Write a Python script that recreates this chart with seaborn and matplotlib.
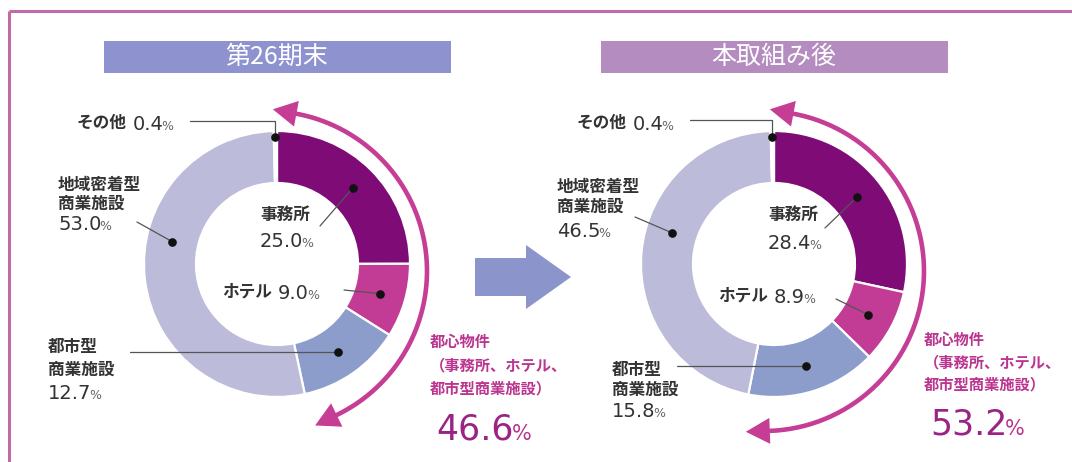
import numpy as np
import matplotlib
matplotlib.use("Agg")
import matplotlib.pyplot as plt
import seaborn as sns
from matplotlib.patches import Rectangle, Polygon, FancyArrow

# ---- data -------------------------------------------------------------
categories = ["事務所", "ホテル", "都市型商業施設", "地域密着型商業施設", "その他"]
share_before = [25.0, 9.0, 12.7, 53.0, 0.4]
share_after = [28.4, 8.9, 15.8, 46.5, 0.4]
urban_before = 46.6
urban_after = 53.2
panel_titles = ["第26期末", "本取組み後"]
label_lines = [["事務所"], ["ホテル"], ["都市型", "商業施設"], ["地域密着型", "商業施設"], ["その他"]]
urban_lines = ["都心物件", "（事務所、ホテル、", "都市型商業施設）"]

# ---- style ------------------------------------------------------------
sns.set_theme(style="white")
JP = ["Noto Sans CJK JP", "DejaVu Sans"]
NUM = "DejaVu Sans"
plt.rcParams["font.family"] = JP

seg_colors = sns.color_palette(["#7e0b76", "#c23b95", "#8d9dcb", "#bcbbd9", "#ffffff"])
TXT = "#333333"
PCT = "#666666"
MAG = "#bb3590"
MAG_NUM = "#9b2384"
ARC = "#c63d95"

W, H = 1072, 462
fig = plt.figure(figsize=(W / 100, H / 100), dpi=100)
ax = fig.add_axes([0, 0, 1, 1])
renderer = fig.canvas.get_renderer()


def Y(y):
    return H - y


def text_w(t):
    return t.get_window_extent(renderer).width


def jp(x, y, s, size=12, color=TXT, weight="bold", **kw):
    return ax.text(x, Y(y), s, ha="left", va="center", fontsize=size,
                   color=color, family=JP, fontweight=weight, **kw)


def value(x, y, v, size=14, pct=9, color=TXT, pct_color=PCT):
    cap = size * 100 / 72 * 0.729
    base = Y(y + cap / 2)
    t = ax.text(x, base, f"{v:.1f}", ha="left", va="baseline", fontsize=size,
                color=color, family=NUM)
    w = text_w(t)
    ax.text(x + w - 2, base, "%", ha="left", va="baseline", fontsize=pct,
            color=pct_color, family=NUM)
    return t


panels = [
    dict(shares=share_before, urban=urban_before, title=panel_titles[0],
         bar="#8e92ce", cx=277, cy=264,
         labels=[
             dict(kind="stack", x=260, ys=[215, 240], lead=(320, 226)),
             dict(kind="inline", x=222, y=292, lead=(344, 290)),
             dict(kind="stack", x=48, ys=[347, 370, 392], lead=(130, None)),
             dict(kind="stack", x=58, ys=[185, 204, 223], lead=(137, 222), angle=282),
             dict(kind="inline", x=77, y=123, lead=(190, 121), elbow=True),
         ],
         urban_x=430, urban_ys=[342, 365, 388], urban_num_y=427),
    dict(shares=share_after, urban=urban_after, title=panel_titles[1],
         bar="#b48cc0", cx=774, cy=264,
         labels=[
             dict(kind="stack", x=768, ys=[215, 242], lead=(825, 228)),
             dict(kind="inline", x=718, y=296, lead=(836, 299)),
             dict(kind="stack", x=612, ys=[370, 390, 410], lead=(677, None)),
             dict(kind="stack", x=557, ys=[187, 207, 230], lead=(635, 217), angle=287),
             dict(kind="inline", x=577, y=123, lead=(690, 120), elbow=True),
         ],
         urban_x=924, urban_ys=[340, 362, 384], urban_num_y=422),
]

R_OUT, R_IN = 133, 81
R_DOT = (R_OUT + R_IN) / 2

for p in panels:
    cx, cy = p["cx"], p["cy"]
    shares = np.asarray(p["shares"], dtype=float)

    # donut
    ax.pie(shares, colors=seg_colors, startangle=90, counterclock=False,
           radius=R_OUT, center=(cx, Y(cy)),
           wedgeprops=dict(width=R_OUT - R_IN, edgecolor="white", linewidth=1.6))

    # title bar
    bw, bh = 347, 32
    ax.add_patch(Rectangle((cx - bw / 2, Y(73)), bw, bh, facecolor=p["bar"],
                           edgecolor="none"))
    ax.text(cx, Y(57), p["title"], ha="center", va="center", fontsize=18,
            color="white", family=JP)

    # labels, leaders and dots
    frac = shares / shares.sum()
    starts = np.concatenate([[0], np.cumsum(frac)[:-1]]) * 360
    mids = starts + frac * 180
    for i, lab in enumerate(p["labels"]):
        ang = np.deg2rad(lab.get("angle", mids[i]))
        rd = R_OUT - 6 if lab.get("elbow") else R_DOT
        dx, dy = cx + rd * np.sin(ang), cy - rd * np.cos(ang)

        if lab["kind"] == "stack":
            lines = label_lines[i]
            for s, yy in zip(lines, lab["ys"]):
                jp(lab["x"], yy, s)
            value(lab["x"], lab["ys"][-1], shares[i])
        else:
            t = jp(lab["x"], lab["y"], label_lines[i][0])
            value(lab["x"] + text_w(t) + 6, lab["y"], shares[i])

        lx, ly = lab["lead"]
        if lab.get("elbow"):
            xs, ys = [lx, dx, dx], [ly, ly, dy]
        elif ly is None:
            xs, ys = [lx, dx], [dy, dy]
        else:
            xs, ys = [lx, dx], [ly, dy]
        ax.plot(xs, [Y(v) for v in ys], color="#555555", lw=0.9, zorder=4)
        ax.plot(dx, Y(dy), "o", ms=5.2, color="#111111", zorder=5)

    # curved double-headed arrow spanning the urban share
    acx, acy, ra = cx - 10, cy + 7, 160
    L, hw = 24, 26

    def pt(th):
        t = np.deg2rad(th)
        return np.array([acx + ra * np.sin(t), acy - ra * np.cos(t)])

    def tan(th):
        t = np.deg2rad(th)
        return np.array([np.cos(t), np.sin(t)])

    def nrm(th):
        t = np.deg2rad(th)
        return np.array([np.sin(t), -np.cos(t)])

    dth = np.rad2deg(L / ra)
    top_b = 2 + dth
    bot_tip = p["urban"] * 3.6 - 5
    bot_b = bot_tip - dth
    th = np.linspace(top_b - 1, bot_b + 1, 200)
    arc = np.array([pt(a) for a in th])
    ax.plot(arc[:, 0], H - arc[:, 1], color=ARC, lw=3.3, solid_capstyle="butt", zorder=3)
    for b, sgn in [(top_b, -1), (bot_b, 1)]:
        base = pt(b)
        tip = base + sgn * L * tan(b)
        c1 = base + hw / 2 * nrm(b)
        c2 = base - hw / 2 * nrm(b)
        poly = np.array([tip, c1, c2])
        poly[:, 1] = H - poly[:, 1]
        ax.add_patch(Polygon(poly, closed=True, facecolor=ARC, edgecolor="none", zorder=3))

    # urban share caption
    for s, yy in zip(urban_lines, p["urban_ys"]):
        jp(p["urban_x"], yy, s, size=11, color=MAG)
    value(p["urban_x"] + 6, p["urban_num_y"], p["urban"], size=25, pct=15,
          color=MAG_NUM, pct_color=MAG)

# transition arrow between the two donuts
ax.add_patch(FancyArrow(475, Y(277), 96, 0, width=38, head_width=64, head_length=45,
                        length_includes_head=True, facecolor="#8b95cc", edgecolor="none"))

# frame
ax.plot([9, W], [Y(11), Y(11)], color="#c06aa9", lw=2.2, solid_capstyle="butt")
ax.plot([9, 9], [Y(11), 0], color="#c06aa9", lw=2.2, solid_capstyle="butt")

ax.set_xlim(0, W)
ax.set_ylim(0, H)
ax.set_axis_off()
fig.savefig("out.png", dpi=100, facecolor="white")
